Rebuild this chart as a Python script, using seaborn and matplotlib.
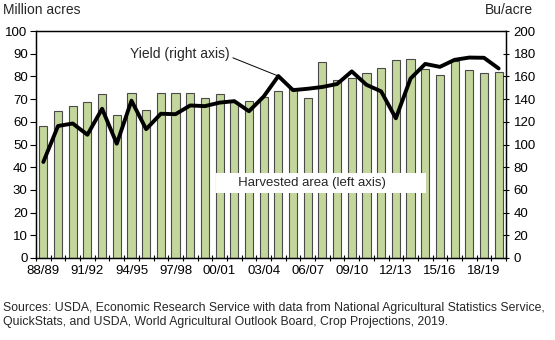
import matplotlib
matplotlib.use("Agg")
import matplotlib.pyplot as plt
import seaborn as sns
import pandas as pd
import numpy as np

seasons = ["88/89", "89/90", "90/91", "91/92", "92/93", "93/94", "94/95", "95/96",
           "96/97", "97/98", "98/99", "99/00", "00/01", "01/02", "02/03", "03/04",
           "04/05", "05/06", "06/07", "07/08", "08/09", "09/10", "10/11", "11/12",
           "12/13", "13/14", "14/15", "15/16", "16/17", "17/18", "18/19", "19/20"]
harvested_area = [58.3, 64.7, 67.0, 68.8, 72.1, 62.9, 72.5, 65.2, 72.6, 72.7, 72.6, 70.5,
                  72.4, 68.8, 69.3, 70.9, 73.6, 75.1, 70.6, 86.5, 78.6, 79.5, 81.4, 83.9,
                  87.4, 87.5, 83.1, 80.8, 86.7, 82.7, 81.7, 82.0]
yield_bu = [84.6, 116.3, 118.5, 108.6, 131.5, 100.7, 138.6, 113.5, 127.1, 126.7, 134.4, 133.8,
            136.9, 138.2, 129.3, 142.2, 160.3, 147.9, 149.1, 150.7, 153.3, 164.4, 152.6, 146.8,
            123.1, 158.1, 171.0, 168.4, 174.6, 176.6, 176.4, 167.0]
left_ticks = [0, 10, 20, 30, 40, 50, 60, 70, 80, 90, 100]
right_ticks = [0, 20, 40, 60, 80, 100, 120, 140, 160, 180, 200]

df = pd.DataFrame({"season": seasons, "area": harvested_area, "yield": yield_bu})
df["pos"] = np.arange(len(df))

sns.set_theme(style="white")
plt.rcParams["font.family"] = ["Liberation Sans", "DejaVu Sans"]

fig = plt.figure(figsize=(5.55, 3.4), dpi=100)
ax = fig.add_axes([36/555, 1-258/340, (506-36)/555, (258-31)/340])

sns.barplot(data=df, x="season", y="area", ax=ax, color="#c3d69b",
            edgecolor="#4a4a4a", linewidth=0.8, width=0.55, saturation=1, zorder=2)
ax.set_ylim(0, 100)
ax.set_xlim(-0.5, len(df) - 0.5)
ax.set_yticks(left_ticks)
ax.set_xlabel("")
ax.set_ylabel("")

ax2 = ax.twinx()
sns.lineplot(data=df, x="pos", y="yield", ax=ax2, color="black", linewidth=2.8, zorder=3)
ax2.set_ylim(0, 200)
ax2.set_yticks(right_ticks)
ax2.set_ylabel("")
ax2.set_xlim(-0.5, len(df) - 0.5)

major = list(range(0, len(df), 3))
ax.set_xticks(major)
ax.set_xticklabels([seasons[i] for i in major])
ax.set_xticks(np.arange(-0.5, len(df), 1), minor=True)
ax.tick_params(axis="x", which="major", length=0, labelsize=9.5, pad=5, colors="black")
ax.tick_params(axis="x", which="minor", length=5, direction="inout", width=0.8,
               bottom=True, color="black")
ax.tick_params(axis="y", which="major", length=4, direction="out", width=0.8,
               left=True, labelsize=9.5, pad=2, colors="black")
ax2.tick_params(axis="y", which="major", length=5, direction="inout", width=0.8,
                right=True, labelsize=9.5, pad=3, colors="black")

for a in (ax, ax2):
    for s in a.spines.values():
        s.set_color("black")
        s.set_linewidth(0.9)
    a.grid(False)

ax2.annotate("Yield (right axis)", xy=(16, yield_bu[16]), xytext=(5.9, 180),
             textcoords="data", ha="left", va="center", fontsize=10,
             arrowprops=dict(arrowstyle="-", color="black", lw=0.7,
                             shrinkA=0, shrinkB=0, relpos=(1.0, 0.3)), zorder=5)
ax.text(18.9, 33, "     Harvested area (left axis)          ", ha="center", va="center",
        fontsize=9.5, zorder=6,
        bbox=dict(boxstyle="square,pad=0.3", facecolor="white", edgecolor="none"))

fig.text(3/555, 1-10/340, "Million acres", ha="left", va="center", fontsize=10)
fig.text(533/555, 1-10/340, "Bu/acre", ha="right", va="center", fontsize=10)
fig.text(3/555, 1-315/340,
         "Sources: USDA, Economic Research Service with data from National Agricultural Statistics Service,\n"
         "QuickStats, and USDA, World Agricultural Outlook Board, Crop Projections, 2019.",
         ha="left", va="center", fontsize=8.8, linespacing=1.3)

fig.savefig("out.png", dpi=100)
